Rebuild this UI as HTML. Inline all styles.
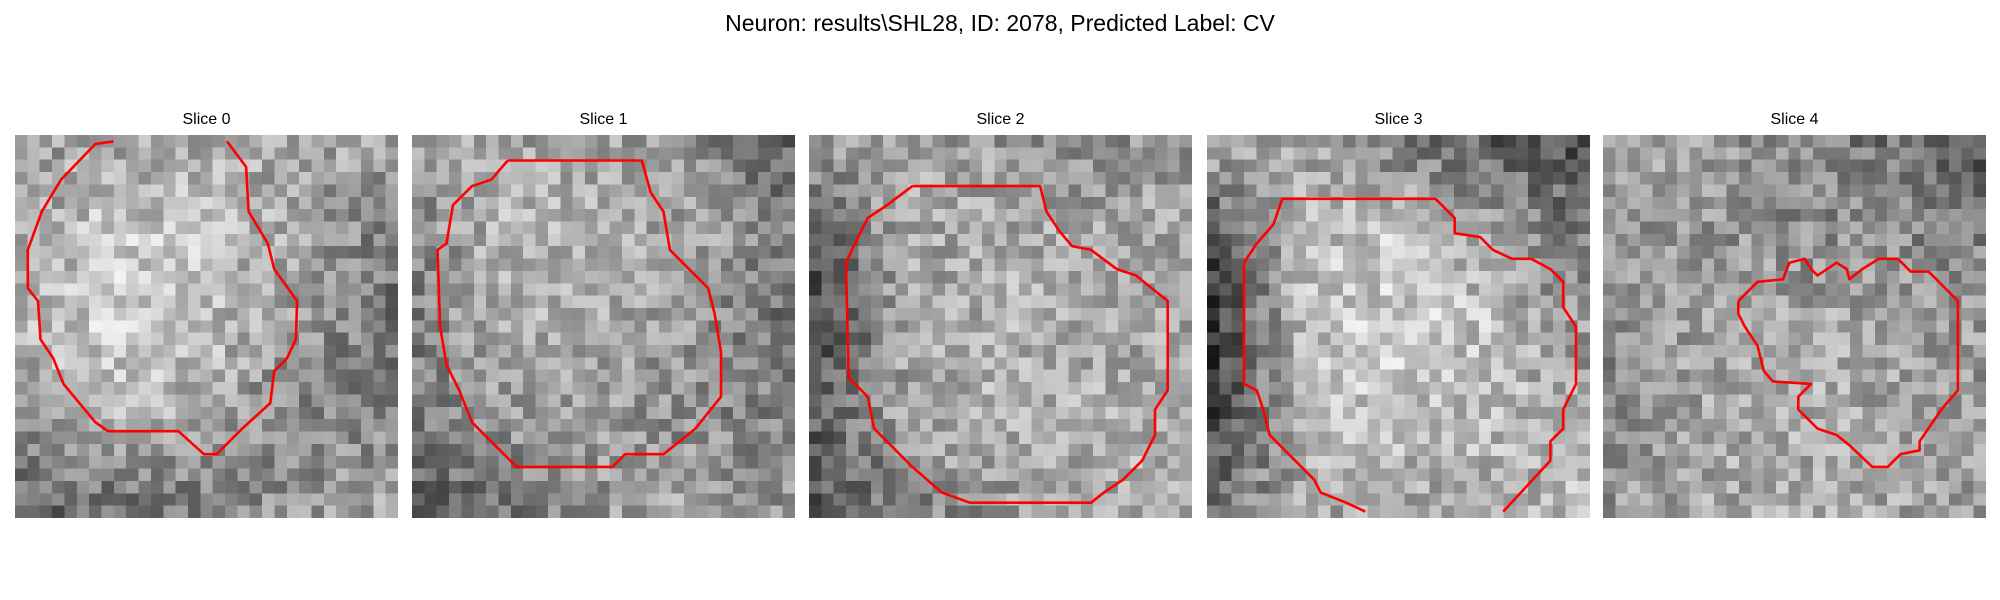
<!DOCTYPE html>
<html><head><meta charset="utf-8">
<style>
body{margin:0;width:2000px;height:600px;background:#fff;position:relative;overflow:hidden;font-family:"Liberation Sans","DejaVu Sans",sans-serif;}
.title{position:absolute;left:0;width:2000px;top:10px;text-align:center;font-size:23px;color:#000;}
.panel{position:absolute;top:135px;width:383px;height:383px;}
.panel canvas{position:absolute;left:0;top:0;width:383px;height:383px;image-rendering:pixelated;}
.panel svg{position:absolute;left:0;top:0;}
.st{position:absolute;top:-24px;width:383px;text-align:center;font-size:16px;color:#000;}
</style></head><body>
<div class="title">Neuron: results\SHL28, ID: 2078, Predicted Label: CV</div>
<div id="root"></div>
<script>
const sliceTitles=["Slice 0","Slice 1","Slice 2","Slice 3","Slice 4"];
const panelLeft=[15,412,809,1207,1603];
const coarse0=[[.6,.65,.65,.66,.63],[.65,.8,.77,.64,.5],[.7,.82,.76,.6,.45],[.6,.7,.65,.5,.55],[.38,.42,.5,.6,.65]];
const coarse1=[[.6,.65,.65,.55,.4],[.55,.72,.7,.65,.5],[.5,.7,.65,.6,.45],[.5,.6,.6,.55,.5],[.33,.45,.6,.65,.6]];
const coarse2=[[.65,.65,.6,.55,.6],[.4,.65,.67,.65,.65],[.28,.65,.7,.67,.65],[.38,.65,.7,.67,.7],[.33,.5,.6,.65,.7]];
const coarse3=[[.7,.65,.5,.38,.32],[.32,.75,.77,.65,.45],[.22,.75,.82,.75,.6],[.28,.7,.77,.73,.65],[.45,.65,.65,.67,.75]];
const coarse4=[[.65,.6,.55,.45,.33],[.6,.6,.55,.55,.5],[.55,.65,.67,.65,.6],[.55,.65,.67,.65,.6],[.6,.65,.67,.65,.6]];
const contour0=[[7.7,.5],[6.3,.7],[3.6,3.5],[2.1,6],[1,9],[1,12],[1.8,13],[2,16],[3,17.5],[3.8,19.5],[6.3,22.5],[7.3,23.2],[12.8,23.2],[14.8,25],[15.8,25],[17.8,23],[20,21],[20.3,18.5],[21.3,17.5],[22,16],[22.1,13],[20.3,10.5],[19.8,8.5],[18.3,6],[18.1,2.5],[16.6,.5]];
const contour1=[[7.5,2],[18,2],[18.7,4.5],[19.7,6],[20.2,9],[23.2,12],[23.7,14],[24.2,17],[24.2,20.5],[22.2,23],[19.7,25],[16.7,25],[15.7,26],[8.2,26],[4.7,22.5],[3.7,20],[2.7,18],[2.2,15],[2,9],[2.7,8.5],[3.2,5.5],[4.7,4],[6.2,3.5],[7.5,2]];
const contour2=[[8.1,4],[18.1,4],[18.6,6],[19.6,7.5],[20.6,8.7],[22.1,9],[24.1,10.5],[25.6,11],[28.1,13],[28.1,20],[27.1,21.5],[27.1,23.5],[26.1,25.5],[24.6,27],[23.1,28],[22.1,28.8],[12.6,28.8],[10.4,28],[8.1,26],[5.1,23],[4.6,20.5],[3.1,19],[2.9,10],[3.6,8.5],[4.6,6.5],[6.1,5.5],[8.1,4]];
const contour3=[[12.4,29.5],[10.9,28.8],[8.9,28],[8.4,27],[6.9,25.5],[4.9,23.5],[4.4,21.5],[3.9,20],[2.9,19.5],[2.9,10],[3.9,8.5],[5.2,7],[5.9,5],[17.9,5],[19.4,6.5],[19.4,7.7],[21.4,8],[22.4,9],[23.9,9.7],[25.4,9.7],[26.9,10.5],[27.9,11.5],[27.9,13.5],[28.9,15],[28.9,19.5],[27.9,21.5],[27.9,23],[26.9,24],[26.9,25.5],[23.2,29.5]];
const contour4=[[10.6,13],[12.1,11.5],[14.1,11.3],[14.6,10],[15.8,9.7],[16.3,10.5],[16.8,11],[18.3,10],[19.1,10.5],[19.3,11.3],[20.3,10.5],[21.6,9.7],[23.1,9.7],[24.1,10.7],[25.5,10.7],[26.8,12],[27.8,13],[27.8,20],[26.5,21.5],[24.8,24],[24.8,24.7],[23.3,25],[22.3,26],[21.1,26],[19.3,24.3],[18.3,23.5],[16.8,23],[15.3,21.5],[15.3,20.5],[16.3,19.5],[13.3,19.3],[12.6,18.5],[12.1,16.5],[11.1,15],[10.6,14],[10.6,13]];
const coarseAll=[coarse0,coarse1,coarse2,coarse3,coarse4];
const contours=[contour0,contour1,contour2,contour3,contour4];
const N=31, S=383;
function hash(i,j,k){let h=(i*374761393+j*668265263+k*2147483647)|0;h=(h^(h>>>13))*1274126177|0;h=h^(h>>>16);return ((h>>>0)%1000)/1000;}
function sample(g,u,v){const x=u*4,y=v*4;const x0=Math.min(3,Math.floor(x)),y0=Math.min(3,Math.floor(y));const fx=x-x0,fy=y-y0;
return g[y0][x0]*(1-fx)*(1-fy)+g[y0][x0+1]*fx*(1-fy)+g[y0+1][x0]*(1-fx)*fy+g[y0+1][x0+1]*fx*fy;}
const root=document.getElementById('root');
sliceTitles.forEach((t,k)=>{
  const p=document.createElement('div');p.className='panel';p.style.left=panelLeft[k]+'px';
  
  
  const tt=document.createElement('div');tt.className='st';tt.textContent=t;
  
  
  p.appendChild(tt);
  const c=document.createElement('canvas');c.width=N;c.height=N;
  
  
  const ctx=c.getContext('2d');const img=ctx.createImageData(N,N);
  for(let j=0;j<N;j++)for(let i=0;i<N;i++){
    let v=sample(coarseAll[k],i/(N-1),j/(N-1))+(hash(i,j,k+1)-0.5)*0.34;
    v=Math.max(0.05,Math.min(0.95,v));const g=Math.round(v*255);const o=(j*N+i)*4;
    img.data[o]=g;img.data[o+1]=g;img.data[o+2]=g;img.data[o+3]=255;}
  ctx.putImageData(img,0,0);p.appendChild(c);
  const ns='http://www.w3.org/2000/svg';const svg=document.createElementNS(ns,'svg');
  svg.setAttribute('width',S);svg.setAttribute('height',S);
  const pl=document.createElementNS(ns,'polyline');
  pl.setAttribute('points',contours[k].map(q=>(q[0]*S/30).toFixed(1)+','+(q[1]*S/30).toFixed(1)).join(' '));
  pl.setAttribute('fill','none');pl.setAttribute('stroke','#ff0000');pl.setAttribute('stroke-width','2.6');pl.setAttribute('stroke-linejoin','round');
  
  
  svg.appendChild(pl);p.appendChild(svg);root.appendChild(p);
});
</script>
</body></html>
